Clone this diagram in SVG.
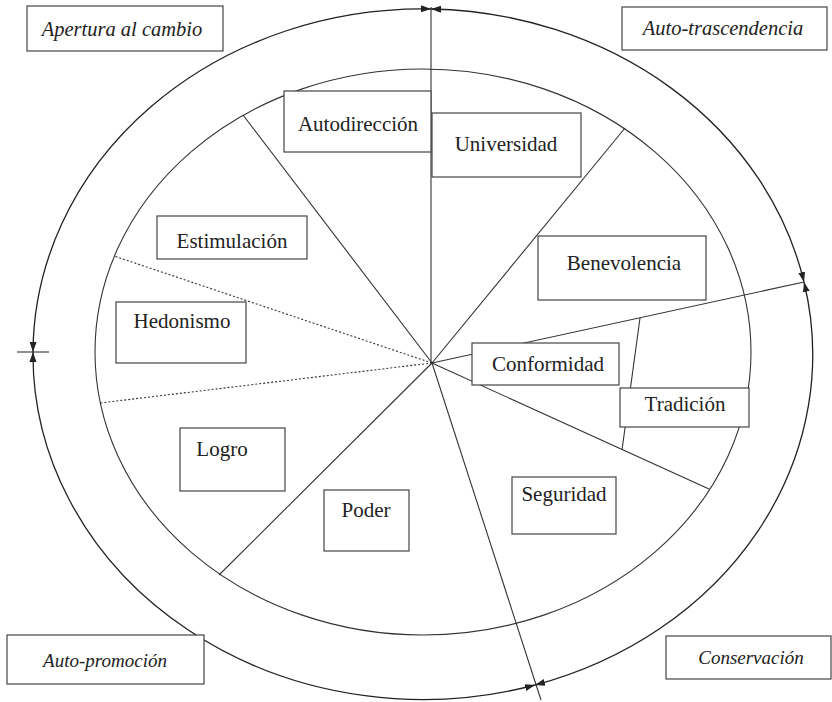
<svg xmlns="http://www.w3.org/2000/svg" width="832" height="702" viewBox="0 0 832 702">
<defs>
<marker id="ah" markerUnits="userSpaceOnUse" markerWidth="11" markerHeight="8" refX="10" refY="3.5" orient="auto-start-reverse">
<path d="M0,0 L10,3.5 L0,7 z" fill="#222"/>
</marker>
<style>
.ln{stroke:#333;stroke-width:1.1;fill:none}
.dot{stroke:#333;stroke-width:1.1;fill:none;stroke-dasharray:2,2}
.arc{stroke:#222;stroke-width:1.3;fill:none;marker-start:url(#ah);marker-end:url(#ah)}
.box{fill:#fff;stroke:#444;stroke-width:1.2}
.t{font-family:"Liberation Serif","Times New Roman",serif;font-size:21px;fill:#222;text-anchor:middle}
.ti{font-family:"Liberation Serif","Times New Roman",serif;font-size:19px;font-style:italic;fill:#222;text-anchor:middle}
.big{font-size:20.5px}
</style>
</defs>
<rect width="832" height="702" fill="#fff"/>
<g id="connectors">
<ellipse class="ln" cx="423" cy="352" rx="328" ry="283"/>
<path class="arc" d="M431,9 A390,345 0 0,0 33,352"/>
<path class="arc" d="M431,9 A390,345 0 0,1 804,282"/>
<path class="arc" d="M804,282 A390,345 0 0,1 535,685"/>
<path class="arc" d="M535,685 A390,345 0 0,1 33,352"/>
<line class="ln" x1="17" y1="352" x2="49" y2="352"/>
<line class="ln" x1="431" y1="7" x2="431" y2="363"/>
<line class="ln" x1="432" y1="363" x2="243" y2="115"/>
<line class="ln" x1="432" y1="363" x2="625" y2="128"/>
<line class="ln" x1="432" y1="363" x2="804" y2="282"/>
<line class="ln" x1="640" y1="318" x2="622" y2="450"/>
<line class="ln" x1="432" y1="363" x2="709" y2="489"/>
<line class="ln" x1="432" y1="363" x2="541" y2="700"/>
<line class="ln" x1="432" y1="363" x2="219" y2="575"/>
<line class="dot" x1="432" y1="363" x2="114" y2="256"/>
<line class="dot" x1="432" y1="363" x2="100" y2="403"/>
</g>
<g id="apertura"><rect class="box" x="27" y="6" width="196" height="45"/><text class="ti big" x="122" y="36">Apertura al cambio</text></g>
<g id="autotrascendencia"><rect class="box" x="622" y="7" width="205" height="43"/><text class="ti big" x="723" y="35">Auto-trascendencia</text></g>
<g id="autopromocion"><rect class="box" x="7" y="635" width="197" height="49"/><text class="ti" x="105" y="667">Auto-promoción</text></g>
<g id="conservacion"><rect class="box" x="666" y="636" width="165" height="43"/><text class="ti" x="751" y="664">Conservación</text></g>
<g id="autodireccion"><rect class="box" x="284" y="91" width="147" height="61"/><text class="t" x="358" y="131">Autodirección</text></g>
<g id="universidad"><rect class="box" x="432" y="113" width="149" height="64"/><text class="t" x="506" y="151">Universidad</text></g>
<g id="estimulacion"><rect class="box" x="157" y="216" width="150" height="43"/><text class="t" x="232" y="248">Estimulación</text></g>
<g id="benevolencia"><rect class="box" x="538" y="236" width="168" height="64"/><text class="t" x="624" y="270">Benevolencia</text></g>
<g id="hedonismo"><rect class="box" x="116" y="302" width="130" height="61"/><text class="t" x="182" y="328">Hedonismo</text></g>
<g id="conformidad"><rect class="box" x="472" y="343" width="147" height="42"/><text class="t" x="548" y="371">Conformidad</text></g>
<g id="tradicion"><rect class="box" x="620" y="388" width="129" height="39"/><text class="t" x="685" y="411">Tradición</text></g>
<g id="logro"><rect class="box" x="180" y="428" width="105" height="63"/><text class="t" x="222" y="456">Logro</text></g>
<g id="poder"><rect class="box" x="324" y="490" width="85" height="61"/><text class="t" x="366" y="517">Poder</text></g>
<g id="seguridad"><rect class="box" x="512" y="477" width="104" height="57"/><text class="t" x="564" y="501">Seguridad</text></g>
</svg>
